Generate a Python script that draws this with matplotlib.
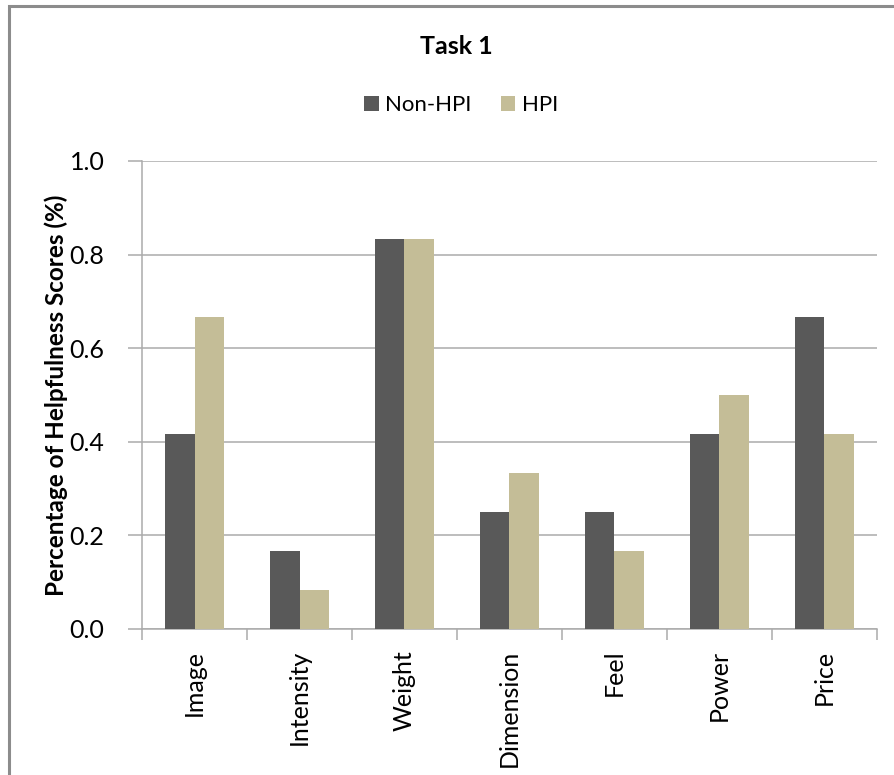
import matplotlib.pyplot as plt
import numpy as np
from matplotlib.patches import Rectangle

plt.rcParams['font.family'] = ['Lato', 'DejaVu Sans']

categories = ['Image', 'Intensity', 'Weight', 'Dimension', 'Feel', 'Power', 'Price']
non_hpi = [0.417, 0.167, 0.833, 0.25, 0.25, 0.417, 0.667]
hpi = [0.667, 0.083, 0.833, 0.333, 0.167, 0.5, 0.417]

DARK = '#595959'
TAN = '#C4BD97'
GRID = '#ABABAB'

W, H = 894, 775
fig = plt.figure(figsize=(W / 100, H / 100), dpi=100)

# outer chart frame (only left/top visible in the reference crop)
fig.patches.append(Rectangle((8.5 / W, -0.1), 1.2, 1.1 - 6.5 / H, transform=fig.transFigure,
                             fill=False, edgecolor='#8C8C8C', linewidth=2.2))

ax = fig.add_axes([142 / W, 1 - 629 / H, 735 / W, 468 / H])

x = np.arange(len(categories))
bw = 0.285
ax.bar(x - bw / 2, non_hpi, bw, color=DARK, label='Non-HPI', zorder=3)
ax.bar(x + bw / 2, hpi, bw, color=TAN, label='HPI', zorder=3)

ax.set_xlim(-0.5, len(categories) - 0.5)
ax.set_ylim(0, 1.0)
ax.set_yticks(np.arange(0, 1.01, 0.2))
ax.set_yticklabels(['%.1f' % v for v in np.arange(0, 1.01, 0.2)], fontsize=18)
ax.yaxis.grid(True, color=GRID, linewidth=1.1, zorder=0)

ax.set_xticks(x)
ax.set_xticklabels(categories, rotation=90, fontsize=18)
ax.set_xticks(np.arange(-0.5, len(categories)), minor=True)
ax.tick_params(axis='x', which='major', length=0, pad=15)
ax.tick_params(axis='x', which='minor', length=8, color=GRID, width=1.1)
ax.tick_params(axis='y', length=10, color=GRID, width=1.1, pad=17)

for side in ['top', 'right']:
    ax.spines[side].set_visible(False)
for side in ['left', 'bottom']:
    ax.spines[side].set_color(GRID)
    ax.spines[side].set_linewidth(1.1)

ax.set_ylabel('Percentage of Helpfulness Scores (%)', fontsize=17.5, fontweight='bold', labelpad=1)

fig.text(456 / W, 1 - 47 / H, 'Task 1', ha='center', va='center', fontsize=18, fontweight='bold')
fig.legend(loc='center', bbox_to_anchor=(461 / W, 1 - 105 / H), ncol=2, frameon=False,
           fontsize=16, handlelength=0.65, handleheight=0.65, handletextpad=0.3, columnspacing=1.3)

fig.savefig('out.png', dpi=100)
